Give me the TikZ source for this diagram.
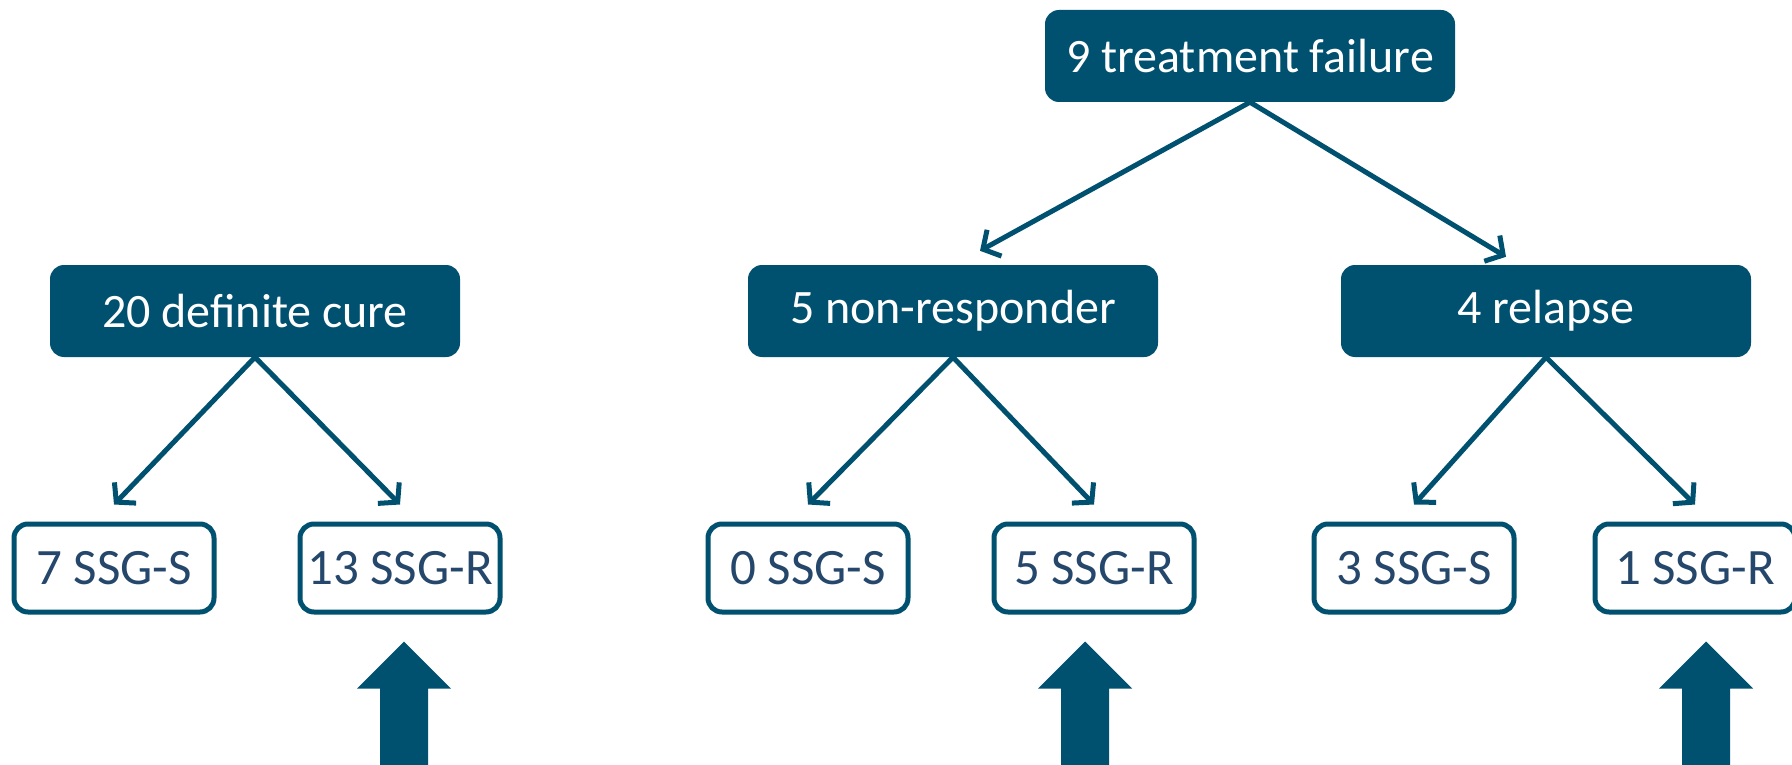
\documentclass[tikz,border=0pt]{standalone}
\usepackage{fontspec}
\setmainfont{Carlito}
\usetikzlibrary{arrows.meta}
\definecolor{petrol}{HTML}{00506F}
\definecolor{ssgtext}{HTML}{24476B}

\begin{document}
\begin{tikzpicture}[x=1pt, y=1pt,
    headbox/.style={rectangle, rounded corners=14pt, fill=petrol, text=white, minimum width=410pt, minimum height=92pt, font=\fontsize{48}{56}\selectfont},
    ssgbox/.style={rectangle, rounded corners=14pt, draw=petrol, line width=5pt, fill=white, text=ssgtext, minimum width=200pt, minimum height=88pt, font=\fontsize{51}{58}\selectfont},
    link/.style={draw=petrol, line width=5pt, -{Straight Barb[length=13pt, width=30pt, line width=5pt]}}]
      \clip (0,0) rectangle (1792,-765);

      \node[headbox] (tf) at (1250,-56) {9 treatment failure};
      \node[headbox] (dc) at (255,-311) {20 definite cure};
      \node[headbox] (nr) at (953,-311) {5 non-responder};
      \node[headbox] (rl) at (1546,-311) {4 relapse};

      \node[ssgbox] (s7) at (114,-568) {7 SSG-S};
      \node[ssgbox] (r13) at (400,-568) {13 SSG-R};
      \node[ssgbox] (s0) at (808,-568) {0 SSG-S};
      \node[ssgbox] (r5) at (1094,-568) {5 SSG-R};
      \node[ssgbox] (s3) at (1414,-568) {3 SSG-S};
      \node[ssgbox] (r1) at (1695,-568) {1 SSG-R};

      \draw[link] (tf.south) -- ([xshift=27pt, yshift=14pt]nr.north);
      \draw[link] (tf.south) -- ([xshift=-40pt, yshift=8pt]rl.north);
      \draw[link] (dc.south) -- ([yshift=17pt]s7.north);
      \draw[link] (dc.south) -- ([yshift=17pt]r13.north);
      \draw[link] (nr.south) -- ([yshift=17pt]s0.north);
      \draw[link] (nr.south) -- ([yshift=17pt]r5.north);
      \draw[link] (rl.south) -- ([yshift=17pt]s3.north);
      \draw[link] (rl.south) -- ([yshift=17pt]r1.north);

      % big arrows pointing up at the SSG-R boxes
      \foreach \n/\dx in {r13/4, r5/-9, r1/11}
        \fill[petrol] ([xshift=\dx pt, yshift=-27pt]\n.south) -- ++(47,-47) -- ++(-23,0) -- ++(0,-90) -- ++(-48,0) -- ++(0,90) -- ++(-23,0) -- cycle;
\end{tikzpicture}
\end{document}
